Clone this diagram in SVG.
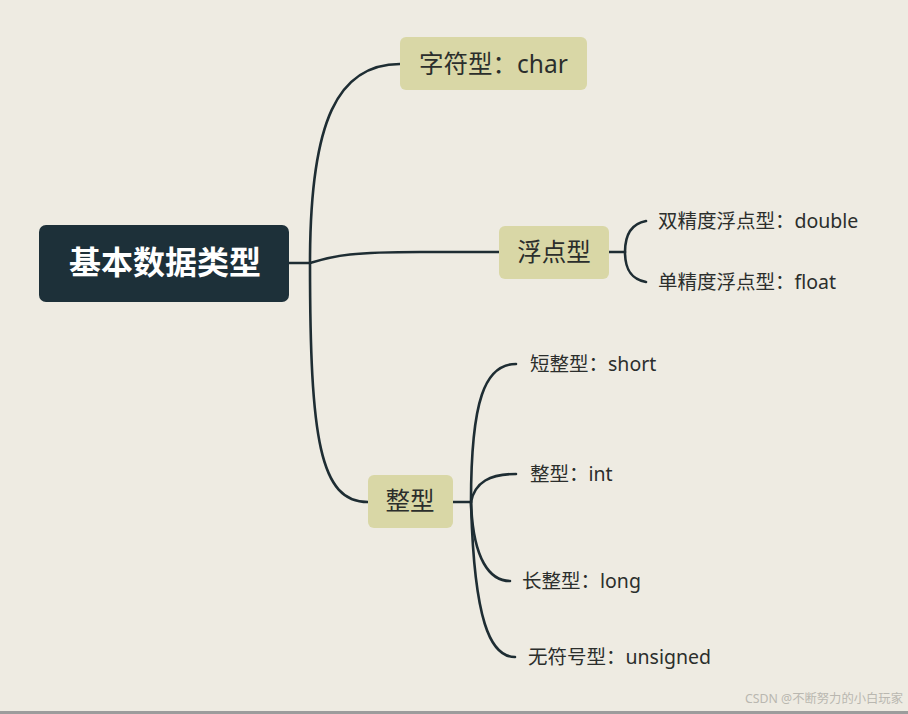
<svg xmlns="http://www.w3.org/2000/svg" width="908" height="714" viewBox="0 0 908 714">
<style>
.bg{fill:#EEEBE2}
.topic{fill:#D9D7A6}
.root{fill:#1D3039}
.ln{fill:none;stroke:#1E2D33;stroke-width:2.6;stroke-linecap:round}
text{font-family:"Noto Sans","Noto Sans CJK SC",sans-serif;fill:#2B2E2C}
.t1{font-size:24.5px}
.t2{font-size:19.5px}
.rt{font-size:32px;font-weight:bold;fill:#FFFFFF}
.wm{font-size:12px;fill:#B9B7B0}
</style>
<rect class="bg" x="0" y="0" width="908" height="714"/>
<rect x="0" y="711" width="908" height="3" fill="#9C9C9C"/>
<g id="connectors">
<path class="ln" d="M289,263 L310,263"/>
<path class="ln" d="M310,263 C310,120 338,64 400,64"/>
<path class="ln" d="M310,263 C310,440 320,502 368,502"/>
<path class="ln" d="M310,263 C335,255 355,252 420,252 L499,252"/>
<path class="ln" d="M609,252 L625,252"/>
<path class="ln" d="M646,221 C630,224 625,236 625,252 C625,268 630,279 646,282"/>
<path class="ln" d="M453,502 L471,502"/>
<path class="ln" d="M471,502 C471,400 485,364 516,364"/>
<path class="ln" d="M471,502 C475,482 490,474 516,474"/>
<path class="ln" d="M471,502 C473,560 490,581 510,581"/>
<path class="ln" d="M471,502 C474,620 490,657 515,657"/>
</g>
<g id="root">
<rect class="root" x="39" y="225" width="250" height="77" rx="7"/>
<text class="rt" x="165" y="274" text-anchor="middle">基本数据类型</text>
</g>
<g id="char">
<rect class="topic" x="400" y="37" width="187" height="53" rx="6"/>
<text class="t1" x="419" y="73">字符型：char</text>
</g>
<g id="float">
<rect class="topic" x="499" y="226" width="110" height="53" rx="6"/>
<text class="t1" x="554" y="261" text-anchor="middle">浮点型</text>
</g>
<g id="int">
<rect class="topic" x="368" y="475" width="85" height="53" rx="6"/>
<text class="t1" x="410" y="510" text-anchor="middle">整型</text>
</g>
<g id="double-leaf"><text class="t2" x="658" y="228">双精度浮点型：double</text></g>
<g id="float-leaf"><text class="t2" x="658" y="289">单精度浮点型：float</text></g>
<g id="short-leaf"><text class="t2" x="530" y="371">短整型：short</text></g>
<g id="int-leaf"><text class="t2" x="530" y="481">整型：int</text></g>
<g id="long-leaf"><text class="t2" x="522" y="588">长整型：long</text></g>
<g id="unsigned-leaf"><text class="t2" x="528" y="664">无符号型：unsigned</text></g>
<text class="wm" x="745" y="703" textLength="158" lengthAdjust="spacingAndGlyphs">CSDN @不断努力的小白玩家</text>
</svg>
